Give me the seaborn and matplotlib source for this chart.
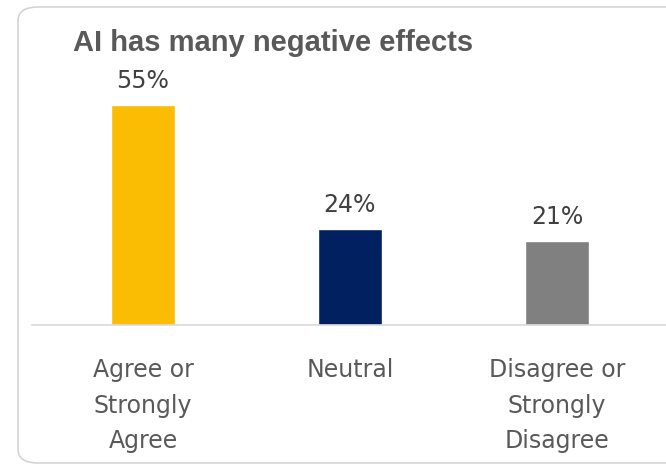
import matplotlib
matplotlib.use("Agg")
import matplotlib.pyplot as plt
import seaborn as sns
from matplotlib.patches import FancyBboxPatch

# Chart data
categories = ["Agree or\nStrongly\nAgree", "Neutral", "Disagree or\nStrongly\nDisagree"]
values = [55, 24, 21]
colors = ["#FBBC04", "#002060", "#808080"]
title = "AI has many negative effects"

sns.set_theme(style="white")
plt.rcParams["font.family"] = ["DejaVu Sans"]

fig = plt.figure(figsize=(6.66, 4.66), dpi=100)

# rounded frame around the chart
frame = FancyBboxPatch((18 / 666, 3 / 466), 700 / 666, 456 / 466,
                       boxstyle="round,pad=0,rounding_size=0.03",
                       transform=fig.transFigure, facecolor="none",
                       edgecolor="#d4d4d4", linewidth=1.2, zorder=-1)
fig.patches.append(frame)

ax = fig.add_axes([32 / 666, 141 / 466, 634 / 666, 285 / 466])
ax.set_facecolor("none")
ax.set_zorder(2)

sns.barplot(x=categories, y=values, hue=categories, palette=colors,
            width=0.31, legend=False, ax=ax, saturation=1)

for cont in ax.containers:
    ax.bar_label(cont, labels=[f"{v:.0f}%" for v in cont.datavalues],
                 padding=9, fontsize=17, color="#404040")

ax.set_xlim(-0.536, 2.527)
ax.set_ylim(0, 71.25)
ax.set_yticks([])
ax.set_ylabel("")
ax.set_xlabel("")
for side in ["top", "right", "left"]:
    ax.spines[side].set_visible(False)
ax.spines["bottom"].set_color("#d9d9d9")
ax.spines["bottom"].set_linewidth(1.2)
ax.tick_params(axis="x", length=0, pad=24, labelsize=17, labelcolor="#595959")
for lbl in ax.get_xticklabels():
    lbl.set_linespacing(1.6)

fig.text(273 / 666, 1 - 43 / 466, title, ha="center", va="center",
         fontsize=21, fontweight="bold", color="#595959",
         family="Liberation Sans")

fig.savefig("out.png", dpi=100)
